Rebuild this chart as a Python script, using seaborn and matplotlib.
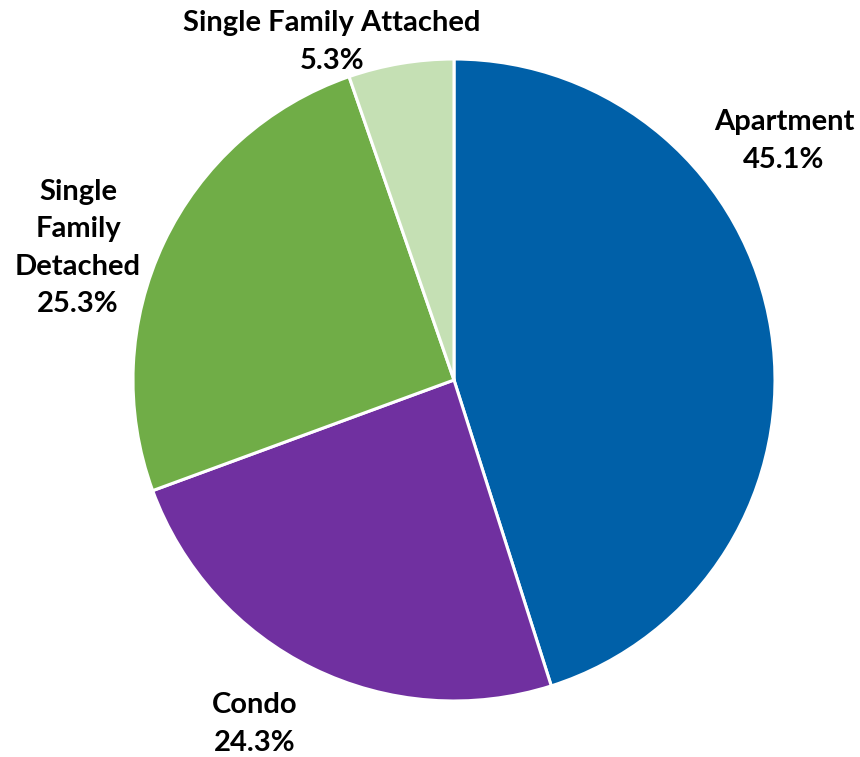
import matplotlib
matplotlib.use("Agg")
import matplotlib.pyplot as plt
import seaborn as sns

# Housing stock share by unit type
categories = ["Apartment", "Condo", "Single Family Detached", "Single Family Attached"]
shares = [45.1, 24.3, 25.3, 5.3]
label_text = ["Apartment", "Condo", "Single\nFamily\nDetached", "Single Family Attached"]
colors = ["#0060A8", "#7030A0", "#70AD47", "#C5E0B4"]

sns.set_theme(style="white")
plt.rcParams["font.family"] = ["Lato", "DejaVu Sans"]

W, H = 860, 757
fig = plt.figure(figsize=(W / 100, H / 100), dpi=100)
ax = fig.add_axes([0, 0, 1, 1])

ax.pie(
    shares,
    colors=colors,
    startangle=90,
    counterclock=False,
    center=(454, H - 380),
    radius=321,
    wedgeprops=dict(edgecolor="white", linewidth=2.2),
    frame=True,
)
ax.set_xlim(0, W)
ax.set_ylim(0, H)
ax.set_aspect("equal")
ax.axis("off")

# label anchor points (pixel layout, y measured from top)
anchors = {
    "Apartment": (784, 141),
    "Condo": (255, 724),
    "Single Family Detached": (78, 248),
    "Single Family Attached": (332, 42),
}
for cat, txt, val in zip(categories, label_text, shares):
    x, y = anchors[cat]
    ax.text(x, H - y, f"{txt}\n{val:.1f}%", ha="center", va="center",
            fontsize=21, fontweight="bold", color="black", linespacing=1.55)

fig.savefig("out.png", dpi=100, facecolor="white")
